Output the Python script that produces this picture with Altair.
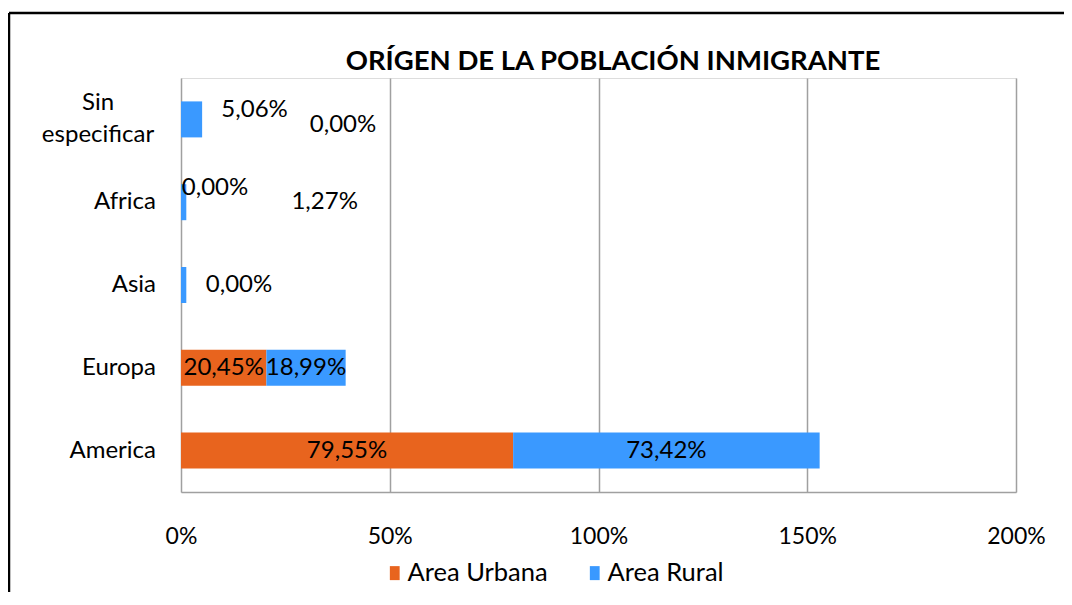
import altair as alt
import pandas as pd

title_text = "ORÍGEN DE LA POBLACIÓN INMIGRANTE"
categories = ["Sin especificar", "Africa", "Asia", "Europa", "America"]
urbana = [0.00, 0.00, 0.00, 20.45, 79.55]
rural = [5.06, 1.27, 1.27, 18.99, 73.42]
series = ["Area Urbana", "Area Rural"]
colors = ["#E8641E", "#3A99FF"]
x_ticks = [0, 50, 100, 150, 200]

rows = []
for i, c in enumerate(categories):
    rows.append({"cat": c, "serie": series[0], "ord": 0, "v": urbana[i]})
    rows.append({"cat": c, "serie": series[1], "ord": 1, "v": rural[i]})
df = pd.DataFrame(rows)

# manually moved data labels (style offsets), and hidden ones
label_offsets = {
    "Sin especificar|Area Rural": (63, -9),
    "Sin especificar|Area Urbana": (162, 6),
    "Africa|Area Urbana": (34, -14),
    "Africa|Area Rural": (141, 0),
    "Asia|Area Urbana": (58, 0),
}
hidden = ["Asia|Area Rural"]

FONT = "Lato"
FS = 24
xscale = alt.Scale(domain=[0, 200], nice=False)
yscale = alt.Scale(domain=categories, paddingInner=0, paddingOuter=0)

base = (
    alt.Chart(df)
    .transform_stack(stack="v", groupby=["cat"], as_=["x0", "x1"], sort=[alt.SortField("ord")])
    .transform_calculate(
        mid="(datum.x0 + datum.x1) / 2",
        lab="replace(format(datum.v, '.2f'), '.', ',') + '%'",
        key="datum.cat + '|' + datum.serie",
    )
)

bars = base.mark_bar(size=36).encode(
    x=alt.X(
        "x0:Q",
        scale=xscale,
        axis=alt.Axis(
            values=x_ticks,
            labelExpr="datum.value + '%'",
            title=None,
            grid=True,
            gridColor="#A0A0A0",
            gridWidth=1.5,
            domainColor="#A0A0A0",
            domainWidth=1.5,
            ticks=False,
            labelFont=FONT,
            labelFontSize=23,
            labelColor="black",
            labelPadding=33,
            labelFlush=False,
        ),
    ),
    x2="x1:Q",
    y=alt.Y("cat:N", scale=yscale, axis=None, sort=categories),
    color=alt.Color(
        "serie:N",
        scale=alt.Scale(domain=series, range=colors),
        legend=alt.Legend(
            title=None,
            orient="none",
            legendX=201,
            legendY=482,
            direction="horizontal",
            labelFont=FONT,
            labelFontSize=25.5,
            labelColor="black",
            symbolType="M-0.7,-1L0.7,-1L0.7,1L-0.7,1Z",
            symbolSize=196,
            symbolStrokeWidth=0,
            columnPadding=34,
            labelOffset=0,
        ),
    ),
    order=alt.Order("ord:Q"),
)

text_style = dict(font=FONT, fontSize=FS, color="black", baseline="middle", align="center")

layers = [bars]
excluded = list(label_offsets.keys()) + hidden
layers.append(
    base.transform_filter(~alt.FieldOneOfPredicate(field="key", oneOf=excluded))
    .mark_text(**text_style)
    .encode(x=alt.X("mid:Q", scale=xscale), y=alt.Y("cat:N", scale=yscale, sort=categories), text="lab:N")
)
for k, (dx, dy) in label_offsets.items():
    layers.append(
        base.transform_filter(alt.FieldEqualPredicate(field="key", equal=k))
        .mark_text(dx=dx, dy=dy, **text_style)
        .encode(x=alt.X("mid:Q", scale=xscale), y=alt.Y("cat:N", scale=yscale, sort=categories), text="lab:N")
    )

# category labels
cat_df = pd.DataFrame({"cat": categories})
single = [c for c in categories if " " not in c]
multi = [c for c in categories if " " in c]
layers.append(
    alt.Chart(cat_df)
    .transform_filter(alt.FieldOneOfPredicate(field="cat", oneOf=single))
    .mark_text(font=FONT, fontSize=FS, color="black", align="right", baseline="middle")
    .encode(x=alt.value(-25), y=alt.Y("cat:N", scale=yscale, sort=categories), text="cat:N")
)
layers.append(
    alt.Chart(cat_df)
    .transform_filter(alt.FieldOneOfPredicate(field="cat", oneOf=multi))
    .transform_calculate(lines="split(datum.cat, ' ')")
    .mark_text(font=FONT, fontSize=FS, color="black", align="center", baseline="middle", lineHeight=32, dy=-16)
    .encode(x=alt.value(-83), y=alt.Y("cat:N", scale=yscale, sort=categories), text="lines:N")
)

# title
layers.append(
    alt.Chart(pd.DataFrame({"t": [title_text]}))
    .mark_text(font=FONT, fontSize=27.5, fontWeight="bold", color="black", align="center", baseline="middle")
    .encode(x=alt.value(432), y=alt.value(-16), text="t:N")
)

# outer frame (top and left edges)
frame_df = pd.DataFrame({"a": [0]})
layers.append(
    alt.Chart(frame_df).mark_rule(color="black", strokeWidth=2.5).encode(
        x=alt.value(-172), x2=alt.value(900), y=alt.value(-65), y2=alt.value(-65)
    )
)
layers.append(
    alt.Chart(frame_df).mark_rule(color="black", strokeWidth=2.5).encode(
        x=alt.value(-172), x2=alt.value(-172), y=alt.value(-65), y2=alt.value(540)
    )
)

chart = (
    alt.layer(*layers)
    .properties(
        width=835,
        height=414,
        autosize=alt.AutoSizeParams(type="none"),
        padding={"left": 173, "top": 70, "right": 48, "bottom": 100},
    )
    .configure_view(stroke=None)
    .configure(background="white")
)

chart.save("out.html", embed_options={"renderer": "svg", "actions": False})
